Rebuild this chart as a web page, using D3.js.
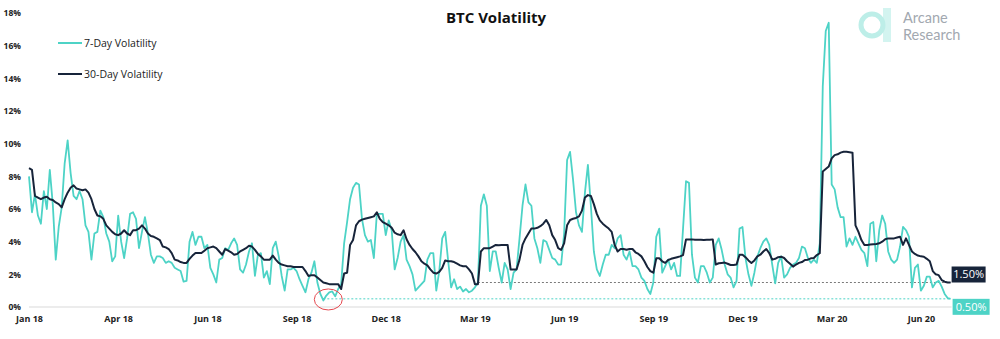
<!DOCTYPE html>
<html>
<head>
<meta charset="utf-8">
<script src="https://cdn.jsdelivr.net/npm/d3@7"></script>
<style>
  body { margin: 0; background: #fff; }
  svg { display: block; font-family: "Open Sans", "Noto Sans", sans-serif; }
</style>
</head>
<body>
<svg width="1000" height="339"></svg>
<script>
// daily BTC volatility, one reading every 3 days from 1 Jan 2018
var startDate = new Date(Date.UTC(2018, 0, 1));
var stepDays = 3;

var vol7 = [
  8.0, 5.8, 6.9, 5.6, 5.1, 7.1, 6.0, 8.4, 6.3, 2.9,
  4.9, 6.1, 8.8, 10.2, 8.2, 6.8, 6.6, 7.1, 6.6, 5.0,
  4.6, 2.9, 4.5, 4.6, 5.9, 5.5, 4.5, 4.0, 2.8, 3.1,
  5.6, 4.0, 3.0, 4.2, 5.7, 5.8, 5.4, 3.6, 4.6, 5.5,
  4.5, 3.2, 2.7, 3.1, 3.1, 3.0, 2.7, 2.8, 2.7, 2.4,
  2.3, 2.2, 1.55, 1.6, 4.0, 4.6, 3.8, 4.3, 4.3, 3.6,
  3.8, 2.4, 2.0, 1.5, 2.9, 3.0, 3.6, 3.5, 3.9, 4.2,
  3.8, 2.3, 2.1, 2.6, 3.4, 3.9, 1.9, 3.2, 3.3, 1.8,
  2.2, 1.4, 3.6, 4.0, 3.1, 1.9, 1.0, 2.3, 2.3, 2.4,
  2.2, 1.7, 1.3, 0.9, 1.7, 2.1, 2.8, 1.5, 0.8, 0.4,
  0.7, 0.9, 0.95, 0.65, 1.1, 1.4, 3.9, 5.2, 6.6, 7.3,
  7.6, 7.5, 5.4, 4.4, 4.0, 4.1, 3.0, 5.7, 5.7, 5.7,
  4.4, 5.3, 4.7, 2.3, 3.0, 4.0, 4.4, 2.9, 2.5, 2.0,
  1.0, 1.2, 1.4, 1.6, 2.9, 3.3, 3.3, 1.0, 2.2, 4.2,
  4.6, 2.8, 1.2, 1.7, 1.1, 1.25, 0.95, 1.1, 0.9, 1.0,
  1.2, 1.5, 6.2, 6.9, 6.2, 2.2, 3.4, 3.4, 2.4, 1.5,
  2.7, 2.3, 1.1, 2.1, 2.3, 4.2, 6.2, 7.5, 6.4, 6.2,
  4.2, 3.6, 2.7, 4.1, 4.0, 3.5, 3.0, 2.9, 2.6, 2.6,
  4.5, 9.0, 9.5, 7.8, 5.8, 5.0, 4.6, 7.0, 8.7, 6.2,
  3.4, 2.3, 1.9, 2.6, 3.2, 3.2, 3.8, 3.6, 4.2, 4.4,
  3.2, 2.9, 3.4, 2.5, 2.5, 2.3, 1.8, 1.6, 1.1, 0.8,
  1.5, 4.3, 4.8, 2.1, 2.5, 2.9, 2.3, 2.7, 1.9, 1.9,
  4.8, 7.7, 7.6, 3.2, 1.8, 1.5, 2.5, 2.5, 2.1, 1.5,
  1.8, 3.8, 4.2, 3.5, 2.6, 2.0, 1.8, 1.2, 1.6, 4.8,
  4.9, 3.0, 2.0, 1.3, 2.1, 3.1, 3.6, 4.0, 4.2, 3.8,
  2.6, 1.45, 2.7, 3.1, 1.8, 2.0, 2.4, 2.6, 2.7, 3.0,
  3.7, 3.6, 3.0, 2.7, 2.9, 2.7, 3.9, 13.5, 16.9, 17.4,
  7.5, 7.2, 6.1, 5.5, 5.5, 3.7, 4.2, 3.8, 4.3, 3.9,
  3.5, 3.3, 2.5, 5.1, 5.2, 2.8, 4.7, 5.6, 5.1, 3.4,
  2.9, 2.7, 2.9, 3.7, 4.9, 4.7, 4.3, 1.2, 2.4, 2.6,
  1.0, 1.3, 1.86, 1.86, 1.2, 1.5, 1.6, 1.25, 0.8, 0.55, 0.5
];

var vol30 = [
  8.5, 8.4, 6.8, 6.7, 6.6, 6.7, 6.75, 6.6, 6.55, 6.4,
  6.3, 6.1, 6.6, 7.0, 7.3, 7.45, 7.25, 7.2, 7.15, 7.2,
  7.0, 6.6, 6.0, 5.6, 5.55, 5.4, 5.0, 4.8, 4.6, 4.45,
  4.4, 4.5, 4.7, 4.5, 4.4, 4.7, 4.7, 4.8, 5.0, 4.8,
  4.5, 4.35, 4.3, 4.2, 4.1, 3.7, 3.65, 3.55, 3.3, 2.9,
  2.85, 2.75, 2.7, 2.7, 2.95, 3.15, 3.3, 3.3, 3.3, 3.45,
  3.6, 3.65, 3.7, 3.6, 3.4, 3.2, 3.55, 3.45, 3.35, 3.2,
  3.25, 3.4, 3.5, 3.6, 3.75, 3.7, 3.5, 3.25, 3.1, 2.9,
  2.9, 2.9, 3.15, 2.9, 2.7, 2.6, 2.55, 2.5, 2.5, 2.45,
  2.45, 2.45, 2.45, 2.2, 1.9, 1.95, 1.95, 1.8, 1.65, 1.5,
  1.45, 1.4, 1.4, 1.4, 1.4, 1.1, 2.05, 2.1, 3.8, 4.1,
  5.0, 5.25, 5.35, 5.4, 5.45, 5.5, 5.55, 5.8, 5.4, 5.2,
  5.1, 5.0, 4.85, 4.55, 4.45, 4.4, 4.7, 4.15, 3.8, 3.55,
  3.35, 3.1, 2.8, 2.65, 2.55, 2.3, 2.1, 2.05, 2.15, 2.4,
  2.85, 2.8, 2.8, 2.75, 2.65, 2.55, 2.5, 2.5, 2.3, 2.05,
  1.4, 1.4, 3.4, 3.6, 3.6, 3.6, 3.7, 3.8, 3.78, 3.8,
  3.8, 3.8, 2.3, 2.3, 2.3, 2.9, 3.8, 4.2, 4.5, 4.8,
  4.8, 4.85, 4.95, 5.1, 5.33, 5.0, 4.4, 4.1, 3.6, 3.5,
  3.9, 5.0, 5.33, 5.4, 5.45, 5.55, 5.9, 6.7, 6.85, 6.8,
  6.3, 5.7, 5.3, 5.1, 4.95, 4.8, 4.6, 3.8, 3.4, 3.55,
  3.55, 3.5, 3.55, 3.55, 3.35, 3.25, 3.1, 2.8, 2.45, 2.2,
  2.1, 2.98, 2.98, 2.8, 2.7, 2.88, 2.95, 3.0, 3.05, 3.1,
  3.18, 4.14, 4.14, 4.14, 4.12, 4.12, 4.12, 4.1, 4.12, 4.12,
  4.14, 2.6, 2.68, 2.7, 2.72, 2.65, 2.57, 2.57, 2.6, 3.2,
  3.2, 3.05, 2.85, 2.7, 2.85, 3.1, 3.2, 3.4, 3.55, 3.3,
  2.9, 2.95, 3.05, 3.08, 3.0, 2.8, 2.65, 2.47, 2.6, 2.7,
  2.75, 2.88, 2.9, 2.98, 3.0, 3.18, 3.29, 8.3, 8.45, 8.6,
  9.1, 9.3, 9.35, 9.45, 9.5, 9.5, 9.48, 9.45, 5.0, 4.6,
  4.1, 3.8, 3.8, 3.82, 3.84, 3.86, 3.9, 4.0, 4.15, 4.2,
  4.2, 4.2, 4.25, 4.3, 3.8, 4.2, 3.8, 3.4, 3.25, 3.15,
  3.1, 3.08, 2.95, 2.8, 2.2, 2.0, 1.95, 1.65, 1.55, 1.5, 1.5
];

var seriesNames = ['7-Day Volatility', '30-Day Volatility'];
var yTicks = [0, 2, 4, 6, 8, 10, 12, 14, 16, 18];
var xTickDays = [0, 90, 180, 270, 360, 450, 540, 630, 720, 810, 900];

var teal = '#4dd3c6';
var navy = '#17243a';

function dateAt(i) {
  return d3.utcDay.offset(startDate, i * stepDays);
}

var lastIndex = vol7.length - 1;

var x = d3.scaleUtc()
  .domain([startDate, dateAt(lastIndex)])
  .range([29, 950.6]);

var y = d3.scaleLinear()
  .domain([0, 18])
  .range([307, 13]);

var svg = d3.select('svg');

// title
svg.append('text')
  .attr('x', 496)
  .attr('y', 23)
  .attr('text-anchor', 'middle')
  .attr('font-size', 15)
  .attr('font-weight', 700)
  .attr('fill', '#111')
  .text('BTC Volatility');

// logo
var logo = svg.append('g');
logo.append('rect')
  .attr('x', 883).attr('y', 8)
  .attr('width', 8).attr('height', 34)
  .attr('fill', '#d3f4f0');
logo.append('circle')
  .attr('cx', 872).attr('cy', 25).attr('r', 11)
  .attr('fill', 'none')
  .attr('stroke', '#bdeee8')
  .attr('stroke-width', 5);
logo.append('text')
  .attr('x', 903).attr('y', 23)
  .attr('font-family', 'Lato, sans-serif')
  .attr('font-size', 14.5)
  .attr('fill', '#a2a8b0')
  .text('Arcane');
logo.append('text')
  .attr('x', 903).attr('y', 40)
  .attr('font-family', 'Lato, sans-serif')
  .attr('font-size', 14.5)
  .attr('fill', '#a2a8b0')
  .text('Research');

// zero line
svg.append('line')
  .attr('x1', x(startDate))
  .attr('x2', x(dateAt(lastIndex)) + 1)
  .attr('y1', y(0))
  .attr('y2', y(0))
  .attr('stroke', '#d9d9d9')
  .attr('stroke-width', 1.2);

// y axis labels only
var yAxis = svg.append('g')
  .attr('transform', 'translate(24,0)')
  .call(d3.axisLeft(y)
    .tickValues(yTicks)
    .tickFormat(function (d) { return d + '%'; })
    .tickSize(0)
    .tickPadding(3));
yAxis.select('.domain').remove();
yAxis.selectAll('text')
  .attr('font-size', 8.5)
  .attr('font-weight', 700)
  .attr('fill', '#222')
  .attr('font-family', '"Open Sans", sans-serif');

// x axis labels
var xAxis = svg.append('g')
  .attr('transform', 'translate(0,' + y(0) + ')')
  .call(d3.axisBottom(x)
    .tickValues(xTickDays.map(function (d) { return d3.utcDay.offset(startDate, d); }))
    .tickFormat(d3.utcFormat('%b %y'))
    .tickSize(0)
    .tickPadding(9));
xAxis.select('.domain').remove();
xAxis.selectAll('text')
  .attr('font-size', 9)
  .attr('font-weight', 700)
  .attr('fill', '#222')
  .attr('font-family', '"Open Sans", sans-serif');

// dotted guides from the last time each series was this low
function lastLowIndex(values) {
  var last = values[values.length - 1];
  var k = values.length - 1;
  while (k > 0 && values[k - 1] <= last + 0.06) k--;
  for (var j = k - 1; j >= 0; j--) {
    if (values[j] <= last) return j;
  }
  return 0;
}

var low30 = lastLowIndex(vol30);
var low7 = lastLowIndex(vol7);

svg.append('line')
  .attr('x1', x(dateAt(low30))).attr('x2', x(dateAt(lastIndex)))
  .attr('y1', y(vol30[lastIndex])).attr('y2', y(vol30[lastIndex]))
  .attr('stroke', '#7a7a7a')
  .attr('stroke-width', 1)
  .attr('stroke-dasharray', '2,2');

svg.append('line')
  .attr('x1', x(dateAt(low7))).attr('x2', x(dateAt(lastIndex)))
  .attr('y1', y(vol7[lastIndex])).attr('y2', y(vol7[lastIndex]))
  .attr('stroke', teal)
  .attr('stroke-width', 1)
  .attr('stroke-dasharray', '2,2');

// lines
var line = d3.line()
  .x(function (d, i) { return x(dateAt(i)); })
  .y(function (d) { return y(d); });

svg.append('path')
  .datum(vol7)
  .attr('fill', 'none')
  .attr('stroke', teal)
  .attr('stroke-width', 1.8)
  .attr('stroke-linejoin', 'round')
  .attr('d', line);

svg.append('path')
  .datum(vol30)
  .attr('fill', 'none')
  .attr('stroke', navy)
  .attr('stroke-width', 2)
  .attr('stroke-linejoin', 'round')
  .attr('d', line);

// circle round the 2018 low
svg.append('ellipse')
  .attr('cx', x(dateAt(low7)) + 5)
  .attr('cy', y(vol7[low7]) - 1)
  .attr('rx', 14)
  .attr('ry', 10.5)
  .attr('fill', 'none')
  .attr('stroke', '#e5484f')
  .attr('stroke-width', 1);

// end value tags
var fmt = d3.format('.2f');
var endX = x(dateAt(lastIndex)) + 1;

svg.append('rect')
  .attr('x', endX).attr('y', y(vol30[lastIndex]) - 16)
  .attr('width', 34).attr('height', 16)
  .attr('fill', navy);
svg.append('text')
  .attr('x', endX + 17).attr('y', y(vol30[lastIndex]) - 8)
  .attr('dy', '0.35em')
  .attr('text-anchor', 'middle')
  .attr('font-size', 11)
  .attr('fill', '#fff')
  .text(fmt(vol30[lastIndex]) + '%');

svg.append('rect')
  .attr('x', endX + 1).attr('y', y(vol7[lastIndex]))
  .attr('width', 37).attr('height', 16)
  .attr('fill', teal);
svg.append('text')
  .attr('x', endX + 19.5).attr('y', y(vol7[lastIndex]) + 8)
  .attr('dy', '0.35em')
  .attr('text-anchor', 'middle')
  .attr('font-size', 11)
  .attr('fill', '#fff')
  .text(fmt(vol7[lastIndex]) + '%');

// legend
var legend = svg.append('g');
[teal, navy].forEach(function (c, i) {
  var ly = 43 + i * 31;
  legend.append('line')
    .attr('x1', 58).attr('x2', 82)
    .attr('y1', ly).attr('y2', ly)
    .attr('stroke', c)
    .attr('stroke-width', 2);
  legend.append('text')
    .attr('x', 84).attr('y', ly)
    .attr('dy', '0.35em')
    .attr('font-size', 10.5)
    .attr('fill', '#222')
    .text(seriesNames[i]);
});
</script>
</body>
</html>
